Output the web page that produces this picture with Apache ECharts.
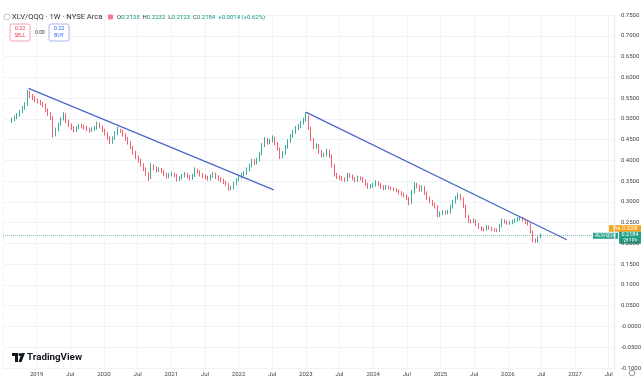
<!DOCTYPE html>
<html><head><meta charset="utf-8">
<script src="https://cdn.jsdelivr.net/npm/echarts@6/dist/echarts.min.js"></script>
<style>html,body{margin:0;padding:0;background:#fff}#c{width:644px;height:378px}</style>
</head><body><div id="c"></div>
<script>
// ---- data ----
const startDate = '2018-08-20';
const stepDays = 14;
const opens = [
0.494,0.498,0.503,0.509,0.517,0.527,0.535,0.562,0.556,0.551,
0.545,0.542,0.538,0.533,0.521,0.512,0.503,0.462,0.474,0.487,
0.500,0.510,0.495,0.485,0.478,0.472,0.479,0.484,0.482,0.479,
0.475,0.472,0.475,0.478,0.488,0.481,0.472,0.465,0.455,0.444,
0.453,0.465,0.472,0.471,0.461,0.452,0.443,0.432,0.419,0.408,
0.400,0.390,0.379,0.369,0.358,0.386,0.381,0.376,0.378,0.374,
0.367,0.361,0.365,0.367,0.364,0.354,0.358,0.363,0.367,0.362,
0.357,0.364,0.377,0.373,0.366,0.362,0.359,0.356,0.362,0.367,
0.360,0.356,0.352,0.348,0.343,0.333,0.334,0.344,0.353,0.360,
0.365,0.369,0.378,0.387,0.399,0.394,0.401,0.416,0.437,0.450,
0.444,0.447,0.454,0.441,0.428,0.409,0.418,0.432,0.446,0.458,
0.468,0.478,0.483,0.490,0.497,0.505,0.478,0.451,0.432,0.436,
0.421,0.412,0.413,0.423,0.411,0.388,0.366,0.360,0.358,0.355,
0.353,0.365,0.363,0.357,0.352,0.359,0.357,0.351,0.343,0.336,
0.338,0.341,0.347,0.343,0.337,0.333,0.336,0.334,0.332,0.330,
0.327,0.323,0.319,0.315,0.309,0.298,0.324,0.342,0.338,0.329,
0.335,0.322,0.310,0.302,0.295,0.289,0.268,0.272,0.275,0.274,
0.276,0.288,0.300,0.309,0.315,0.308,0.290,0.266,0.254,0.253,
0.255,0.246,0.239,0.234,0.233,0.240,0.237,0.233,0.232,0.231,
0.242,0.255,0.252,0.249,0.250,0.253,0.256,0.259,0.261,0.257,
0.251,0.247,0.228,0.208,0.205,0.2135];
const closes = [
0.498,0.503,0.509,0.517,0.527,0.535,0.562,0.556,0.551,0.545,
0.542,0.538,0.533,0.521,0.512,0.503,0.462,0.474,0.487,0.500,
0.510,0.495,0.485,0.478,0.472,0.479,0.484,0.482,0.479,0.475,
0.472,0.475,0.478,0.488,0.481,0.472,0.465,0.455,0.444,0.453,
0.465,0.472,0.471,0.461,0.452,0.443,0.432,0.419,0.408,0.400,
0.390,0.379,0.369,0.358,0.386,0.381,0.376,0.378,0.374,0.367,
0.361,0.365,0.367,0.364,0.354,0.358,0.363,0.367,0.362,0.357,
0.364,0.377,0.373,0.366,0.362,0.359,0.356,0.362,0.367,0.360,
0.356,0.352,0.348,0.343,0.333,0.334,0.344,0.353,0.360,0.365,
0.369,0.378,0.387,0.399,0.394,0.401,0.416,0.437,0.450,0.444,
0.447,0.454,0.441,0.428,0.409,0.418,0.432,0.446,0.458,0.468,
0.478,0.483,0.490,0.497,0.505,0.478,0.451,0.432,0.436,0.421,
0.412,0.413,0.423,0.411,0.388,0.366,0.360,0.358,0.355,0.353,
0.365,0.363,0.357,0.352,0.359,0.357,0.351,0.343,0.336,0.338,
0.341,0.347,0.343,0.337,0.333,0.336,0.334,0.332,0.330,0.327,
0.323,0.319,0.315,0.309,0.298,0.324,0.342,0.338,0.329,0.335,
0.322,0.310,0.302,0.295,0.289,0.268,0.272,0.275,0.274,0.276,
0.288,0.300,0.309,0.315,0.308,0.290,0.266,0.254,0.253,0.255,
0.246,0.239,0.234,0.233,0.240,0.237,0.233,0.232,0.231,0.242,
0.255,0.252,0.249,0.250,0.253,0.256,0.259,0.261,0.257,0.251,
0.247,0.228,0.208,0.205,0.2135,0.2184];
const highs = [
0.503,0.507,0.514,0.521,0.531,0.540,0.570,0.568,0.560,0.555,
0.549,0.546,0.541,0.537,0.525,0.516,0.506,0.479,0.491,0.504,
0.516,0.513,0.498,0.489,0.482,0.483,0.488,0.488,0.486,0.483,
0.479,0.480,0.483,0.493,0.491,0.484,0.476,0.468,0.458,0.458,
0.470,0.481,0.476,0.474,0.465,0.456,0.446,0.435,0.423,0.412,
0.404,0.393,0.383,0.372,0.393,0.390,0.385,0.383,0.382,0.377,
0.370,0.369,0.372,0.371,0.367,0.362,0.367,0.372,0.370,0.365,
0.368,0.383,0.380,0.376,0.369,0.366,0.363,0.366,0.372,0.370,
0.364,0.360,0.356,0.351,0.346,0.339,0.348,0.357,0.364,0.370,
0.374,0.383,0.392,0.404,0.403,0.406,0.421,0.442,0.456,0.454,
0.452,0.460,0.457,0.444,0.431,0.423,0.437,0.451,0.463,0.473,
0.483,0.488,0.495,0.503,0.516,0.509,0.481,0.454,0.441,0.439,
0.424,0.418,0.428,0.426,0.414,0.391,0.370,0.364,0.362,0.359,
0.370,0.369,0.366,0.360,0.363,0.362,0.360,0.354,0.346,0.343,
0.346,0.352,0.350,0.346,0.340,0.341,0.340,0.337,0.335,0.333,
0.330,0.326,0.322,0.318,0.312,0.329,0.348,0.346,0.341,0.340,
0.338,0.325,0.313,0.305,0.298,0.292,0.277,0.280,0.279,0.281,
0.293,0.305,0.314,0.322,0.319,0.311,0.293,0.269,0.258,0.260,
0.258,0.249,0.242,0.238,0.244,0.243,0.240,0.237,0.236,0.247,
0.260,0.258,0.255,0.254,0.257,0.260,0.263,0.265,0.264,0.260,
0.254,0.250,0.231,0.212,0.217,0.2232];
const lows = [
0.490,0.494,0.499,0.505,0.513,0.522,0.531,0.550,0.545,0.540,
0.537,0.533,0.528,0.516,0.507,0.497,0.455,0.458,0.470,0.483,
0.496,0.490,0.480,0.473,0.467,0.468,0.475,0.477,0.474,0.470,
0.467,0.468,0.471,0.474,0.477,0.468,0.460,0.450,0.439,0.440,
0.449,0.461,0.466,0.457,0.447,0.438,0.427,0.414,0.403,0.395,
0.385,0.374,0.363,0.350,0.355,0.376,0.371,0.372,0.369,0.362,
0.356,0.357,0.361,0.359,0.349,0.350,0.354,0.359,0.357,0.352,
0.353,0.360,0.368,0.361,0.357,0.354,0.351,0.352,0.358,0.355,
0.351,0.347,0.343,0.338,0.327,0.328,0.330,0.340,0.349,0.356,
0.361,0.365,0.374,0.383,0.389,0.390,0.397,0.412,0.432,0.438,
0.439,0.443,0.436,0.423,0.403,0.405,0.414,0.428,0.442,0.454,
0.464,0.473,0.478,0.486,0.493,0.473,0.446,0.427,0.428,0.416,
0.407,0.408,0.409,0.406,0.383,0.361,0.355,0.353,0.350,0.348,
0.349,0.358,0.352,0.347,0.348,0.352,0.346,0.338,0.331,0.332,
0.334,0.337,0.338,0.332,0.328,0.329,0.330,0.328,0.326,0.323,
0.319,0.315,0.311,0.304,0.292,0.295,0.320,0.333,0.324,0.325,
0.317,0.305,0.297,0.290,0.284,0.263,0.264,0.268,0.269,0.270,
0.272,0.284,0.296,0.305,0.303,0.285,0.261,0.249,0.248,0.249,
0.242,0.235,0.230,0.229,0.230,0.233,0.229,0.228,0.227,0.228,
0.239,0.248,0.245,0.245,0.246,0.249,0.252,0.255,0.253,0.247,
0.243,0.224,0.203,0.201,0.202,0.2123];
const trend1 = [[2018.88, 0.5732], [2022.523, 0.329]];
const trend2 = [[2023.0, 0.516], [2026.877, 0.2088]];
const xTickLabels = ['2019','Jul','2020','Jul','2021','Jul','2022','Jul','2023','Jul','2024','Jul','2025','Jul','2026','Jul','2027','Jul'];
const yTickLabels = ['-0.1000','-0.0500','-0.0000','0.0500','0.1000','0.1500','0.2000','0.2500','0.3000','0.3500','0.4000','0.4500','0.5000','0.5500','0.6000','0.6500','0.7000','0.7500'];
const lastPrice = 0.2184;
const prePrice = 0.2208;
const headerTitle = 'XLV/QQQ · 1W · NYSE Arca';
const ohlc = {O:'0.2135', H:'0.2232', L:'0.2123', C:'0.2184', chg:'+0.0014 (+0.62%)'};

// ---- build ----
function toYear(d){const y=d.getUTCFullYear();const s=Date.UTC(y,0,1),e=Date.UTC(y+1,0,1);return y+(d.getTime()-s)/(e-s);}
const t0 = Date.parse(startDate+'T00:00:00Z');
const candles = closes.map((c,i)=>[toYear(new Date(t0+i*stepDays*86400000)), opens[i], c, lows[i], highs[i]]);

const UP='#089981', DN='#f23645';
const FONT='Roboto, "Noto Sans", sans-serif';
const chart = echarts.init(document.getElementById('c'));
chart.setOption({
  animation:false,
  textStyle:{fontFamily:FONT},
  grid:{left:0,right:29,top:15,bottom:10},
  xAxis:{type:'value',min:2018.5,max:2027.577,interval:0.5,
    axisLine:{show:false},axisTick:{show:false},
    splitLine:{show:true,lineStyle:{color:'#f0f3fa',width:1}},
    axisLabel:{fontSize:6,color:'#444',margin:3,fontFamily:FONT,
      formatter:v=>{if(v<2018.99)return '';return xTickLabels[Math.round((v-2019)*2)]||'';}}},
  yAxis:{type:'value',position:'right',min:-0.1,max:0.75,interval:0.05,
    axisLine:{show:true,lineStyle:{color:'#e6e8ee'}},axisTick:{show:false},
    splitLine:{show:true,lineStyle:{color:'#f0f3fa',width:1}},
    axisLabel:{fontSize:6,color:'#444',margin:7,fontFamily:FONT,
      formatter:v=>yTickLabels[Math.round((v+0.1)/0.05)]||''}},
  series:[
    {type:'candlestick',data:candles,encode:{x:0,y:[1,2,3,4]},barWidth:1.3,
      itemStyle:{color:UP,color0:DN,borderColor:UP,borderColor0:DN,borderWidth:0.8},
      markLine:{symbol:'none',silent:true,label:{show:false},
        lineStyle:{type:'dotted',color:'#8fbfb0',width:1},data:[{yAxis:lastPrice}]}},
    {type:'line',data:trend1,symbol:'none',lineStyle:{color:'#4d68c8',width:1.3},z:5},
    {type:'line',data:trend2,symbol:'none',lineStyle:{color:'#4d68c8',width:1.3},z:5}
  ]
});

const yL = chart.convertToPixel({yAxisIndex:0}, lastPrice);
const g = [
  {type:'circle',shape:{cx:7,cy:17,r:3},style:{fill:'#fff',stroke:'#bbb',lineWidth:0.8}},
  {type:'text',x:12,y:17,style:{text:headerTitle,fontSize:7.6,fill:'#333',fontFamily:FONT,verticalAlign:'middle'}},
  {type:'rect',shape:{x:108,y:14.5,width:5,height:5,r:1},style:{fill:'#f47a8f'}},
  {type:'text',x:117,y:17,style:{
    text:'{l|O}{v|'+ohlc.O+'} {l|H}{v|'+ohlc.H+'} {l|L}{v|'+ohlc.L+'} {l|C}{v|'+ohlc.C+'} {v|'+ohlc.chg+'}',
    verticalAlign:'middle',fontFamily:FONT,
    rich:{l:{fontSize:6,fill:'#333',fontFamily:FONT},v:{fontSize:6,fill:UP,fontFamily:FONT}}}},
  {type:'rect',shape:{x:10,y:24,width:20,height:17,r:2},style:{fill:'#fff',stroke:'#f28a99',lineWidth:0.8}},
  {type:'text',x:20,y:29,style:{text:'0.22',fontSize:5.5,fill:DN,align:'center',verticalAlign:'middle',fontFamily:FONT}},
  {type:'text',x:20,y:36,style:{text:'SELL',fontSize:5,fill:DN,align:'center',verticalAlign:'middle',fontFamily:FONT}},
  {type:'text',x:40,y:33,style:{text:'0.00',fontSize:5,fill:'#333',align:'center',verticalAlign:'middle',fontFamily:FONT}},
  {type:'rect',shape:{x:49,y:24,width:20,height:17,r:2},style:{fill:'#fff',stroke:'#8fa3e8',lineWidth:0.8}},
  {type:'text',x:59,y:29,style:{text:'0.22',fontSize:5.5,fill:'#2962ff',align:'center',verticalAlign:'middle',fontFamily:FONT}},
  {type:'text',x:59,y:36,style:{text:'BUY',fontSize:5,fill:'#2962ff',align:'center',verticalAlign:'middle',fontFamily:FONT}},
  // TradingView logo
  {type:'rect',shape:{x:12,y:353,width:6,height:3},style:{fill:'#131722'}},
  {type:'rect',shape:{x:15,y:353,width:3,height:9},style:{fill:'#131722'}},
  {type:'circle',shape:{cx:20,cy:354.5,r:1.5},style:{fill:'#131722'}},
  {type:'polygon',shape:{points:[[21.5,353],[25,353],[21.5,362],[18.5,362]]},style:{fill:'#131722'}},
  {type:'text',x:27,y:357.5,style:{text:'TradingView',fontSize:9.8,fontWeight:'bold',fill:'#131722',verticalAlign:'middle',fontFamily:FONT}},
  // price tags
  {type:'rect',shape:{x:609,y:yL-10.5,width:32,height:6.5},style:{fill:'#f7a21b'}},
  {type:'text',x:613,y:yL-7.2,style:{text:'Pre',fontSize:5,fill:'#fff',verticalAlign:'middle',fontFamily:FONT}},
  {type:'text',x:630,y:yL-7.2,style:{text:prePrice.toFixed(4),fontSize:5,fill:'#fff',align:'center',verticalAlign:'middle',fontFamily:FONT}},
  {type:'rect',shape:{x:593,y:yL-3,width:25,height:6},style:{fill:'#22a08a'}},
  {type:'text',x:605.5,y:yL,style:{text:'XLV/QQQ',fontSize:5,fill:'#fff',align:'center',verticalAlign:'middle',fontFamily:FONT}},
  {type:'rect',shape:{x:619,y:yL-4,width:22,height:12},style:{fill:'#22a08a'}},
  {type:'text',x:630,y:yL-0.8,style:{text:lastPrice.toFixed(4),fontSize:5.5,fill:'#fff',align:'center',verticalAlign:'middle',fontFamily:FONT}},
  {type:'text',x:630,y:yL+4.8,style:{text:'2d 10h',fontSize:4.5,fill:'#fff',align:'center',verticalAlign:'middle',fontFamily:FONT}},
  {type:'circle',shape:{cx:632,cy:373,r:2.8},style:{fill:'none',stroke:'#666',lineWidth:0.7}}
];
chart.setOption({graphic:g});
</script>
</body></html>
